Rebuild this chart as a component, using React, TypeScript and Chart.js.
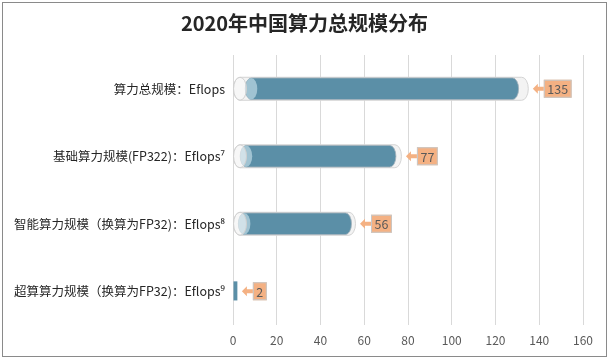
import React, { useEffect, useRef } from "react";
import { Chart, registerables } from "chart.js";

Chart.register(...registerables);

const TITLE = "2020年中国算力总规模分布";
const categories = [
  "算力总规模：Eflops",
  "基础算力规模(FP322)：Eflops⁷",
  "智能算力规模（换算为FP32)：Eflops⁸",
  "超算算力规模（换算为FP32)：Eflops⁹",
];
const values = [135, 77, 56, 2];
const X_MIN = 0;
const X_MAX = 160;
const X_STEP = 20;

const FONT = "'Noto Sans CJK SC', 'Noto Sans', sans-serif";
const TEAL = "#5B8FA7";
const TEAL_FACE = "#A0C3D2";
const ORANGE = "#F4B183";

function capsule(ctx: CanvasRenderingContext2D, l: number, r: number, y: number, h: number, rx: number) {
  ctx.beginPath();
  ctx.moveTo(l + rx, y - h / 2);
  ctx.lineTo(r - rx, y - h / 2);
  ctx.ellipse(r - rx, y, rx, h / 2, 0, -Math.PI / 2, Math.PI / 2);
  ctx.lineTo(l + rx, y + h / 2);
  ctx.ellipse(l + rx, y, rx, h / 2, 0, Math.PI / 2, (3 * Math.PI) / 2);
  ctx.closePath();
}

const centeredTitlePlugin = {
  id: "centeredTitle",
  afterDraw(chart: any) {
    const ctx: CanvasRenderingContext2D = chart.ctx;
    ctx.save();
    ctx.font = `bold 20px ${FONT}`;
    ctx.fillStyle = "#262626";
    ctx.textAlign = "center";
    ctx.textBaseline = "middle";
    ctx.fillText(TITLE, chart.width / 2, 20);
    ctx.restore();
  },
};

const cylinderPlugin = {
  id: "cylinders",
  afterDatasetsDraw(chart: any) {
    const ctx: CanvasRenderingContext2D = chart.ctx;
    const meta = chart.getDatasetMeta(0);
    meta.data.forEach((el: any, i: number) => {
      const { x, y, base, height } = el.getProps(["x", "y", "base", "height"], true);
      const w = x - base;
      const h = height;
      ctx.save();
      if (w < 20) {
        ctx.fillStyle = TEAL;
        ctx.fillRect(base, y - h * 0.43, w, h * 0.83);
      } else {
        const rx = 6.5;
        capsule(ctx, base, x, y, h, rx);
        ctx.fillStyle = "#F3F3F3";
        ctx.fill();
        ctx.strokeStyle = "#D4D4D4";
        ctx.lineWidth = 1;
        ctx.stroke();
        const li = base + w * 0.04;
        const ri = x - w * 0.033;
        const ih = h - 1.5;
        capsule(ctx, li, ri, y, ih, 6);
        ctx.fillStyle = TEAL;
        ctx.fill();
        ctx.strokeStyle = "rgba(160,175,185,0.8)";
        ctx.stroke();
        ctx.beginPath();
        ctx.ellipse(li + 6, y, 6, ih / 2, 0, 0, Math.PI * 2);
        ctx.fillStyle = TEAL_FACE;
        ctx.fill();
        ctx.beginPath();
        ctx.ellipse(base + rx, y, rx, h / 2, 0, 0, Math.PI * 2);
        ctx.fillStyle = "rgba(250,250,250,0.55)";
        ctx.fill();
        ctx.strokeStyle = "#D0D0D0";
        ctx.stroke();
      }
      const txt = String(values[i]);
      ctx.font = `12.5px ${FONT}`;
      const tw = ctx.measureText(txt).width;
      const tip = x + 4.5;
      const bx = tip + 11;
      const bh = 18;
      const bw = tw + 7;
      ctx.fillStyle = ORANGE;
      ctx.beginPath();
      ctx.moveTo(tip, y);
      ctx.lineTo(tip + 5, y - 5);
      ctx.lineTo(tip + 5, y - 2);
      ctx.lineTo(bx, y - 2);
      ctx.lineTo(bx, y + 2);
      ctx.lineTo(tip + 5, y + 2);
      ctx.lineTo(tip + 5, y + 5);
      ctx.closePath();
      ctx.fill();
      ctx.fillRect(bx, y - bh / 2, bw, bh);
      ctx.strokeStyle = "#C8C8C8";
      ctx.strokeRect(bx + 0.5, y - bh / 2 + 0.5, bw - 1, bh - 1);
      ctx.fillStyle = "#595959";
      ctx.textAlign = "center";
      ctx.textBaseline = "middle";
      ctx.fillText(txt, bx + bw / 2, y + 0.5);
      ctx.restore();
    });
  },
};

export default function App() {
  const ref = useRef<HTMLCanvasElement>(null);
  useEffect(() => {
    if (!ref.current) return;
    const chart = new Chart(ref.current, {
      type: "bar",
      data: {
        labels: categories,
        datasets: [
          {
            data: values,
            backgroundColor: "rgba(0,0,0,0)",
            borderWidth: 0,
            barThickness: 23,
          },
        ],
      },
      options: {
        indexAxis: "y",
        animation: false,
        responsive: false,
        layout: { padding: { left: 0, right: 23, top: 52, bottom: 8 } },
        plugins: {
          legend: { display: false },
          tooltip: { enabled: false },
          title: { display: false },
        },
        scales: {
          x: {
            min: X_MIN,
            max: X_MAX,
            afterFit(scale: any) {
              scale.height = 23;
            },
            ticks: {
              stepSize: X_STEP,
              color: "#595959",
              font: { family: FONT, size: 12 },
              padding: 8,
            },
            grid: { color: "#D9D9D9", drawTicks: false },
            border: { display: false },
          },
          y: {
            afterFit(scale: any) {
              scale.width = 230;
            },
            ticks: {
              color: "#262626",
              font: { family: FONT, size: 12.5 },
              padding: 8,
            },
            grid: { display: false, drawTicks: false },
            border: { display: false },
          },
        },
      },
      plugins: [cylinderPlugin, centeredTitlePlugin],
    } as any);
    return () => chart.destroy();
  }, []);
  return (
    <div
      style={{
        position: "absolute",
        left: 2,
        top: 2,
        width: 605,
        height: 355,
        boxSizing: "border-box",
        border: "1px solid #8A8A8A",
        background: "#fff",
      }}
    >
      <canvas ref={ref} width={603} height={353} style={{ display: "block" }} />
    </div>
  );
}
